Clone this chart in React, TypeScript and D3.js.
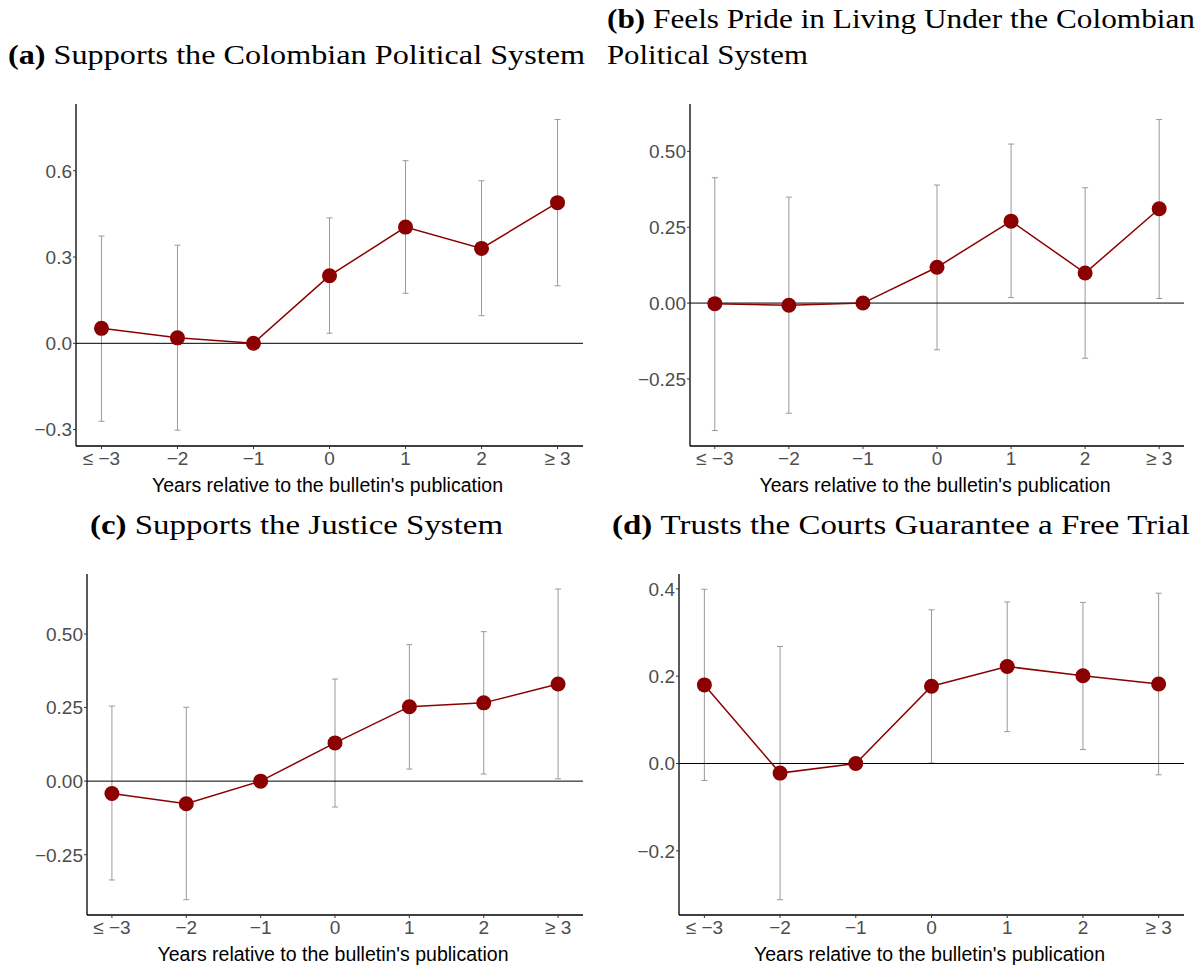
import React from "react";
import * as d3 from "d3";

const categories = ["≤ −3", "−2", "−1", "0", "1", "2", "≥ 3"];

const estA = [0.052, 0.019, 0, 0.235, 0.404, 0.33, 0.489];
const hiA = [0.373, 0.341, 0, 0.436, 0.635, 0.565, 0.778];
const loA = [-0.271, -0.302, 0, 0.035, 0.174, 0.096, 0.2];

const estB = [-0.002, -0.007, 0, 0.118, 0.27, 0.099, 0.311];
const hiB = [0.413, 0.349, 0, 0.389, 0.524, 0.38, 0.605];
const loB = [-0.42, -0.363, 0, -0.154, 0.018, -0.182, 0.015];

const estC = [-0.042, -0.077, 0, 0.13, 0.253, 0.266, 0.33];
const hiC = [0.255, 0.251, 0, 0.347, 0.464, 0.508, 0.653];
const loC = [-0.336, -0.403, 0, -0.088, 0.041, 0.024, 0.008];

const estD = [0.18, -0.022, 0, 0.177, 0.222, 0.201, 0.182];
const hiD = [0.399, 0.268, 0, 0.352, 0.37, 0.369, 0.39];
const loD = [-0.039, -0.312, 0, 0.001, 0.073, 0.032, -0.026];

const ticksA = [-0.3, 0, 0.3, 0.6];
const ticksB = [-0.25, 0, 0.25, 0.5];
const ticksC = [-0.25, 0, 0.25, 0.5];
const ticksD = [-0.2, 0, 0.2, 0.4];

const xLabel = "Years relative to the bulletin's publication";

type PanelProps = {
  left: number; right: number; top: number; bottom: number;
  domain: [number, number]; ticks: number[]; fmt: string;
  est: number[]; hi: number[]; lo: number[];
};

function Panel(p: PanelProps) {
  const x = d3.scalePoint<string>().domain(categories).range([p.left, p.right]).padding(0.335);
  const y = d3.scaleLinear().domain(p.domain).range([p.bottom, p.top]);
  const f = d3.format(p.fmt);
  const line = d3.line<number>().x((_, i) => x(categories[i])!).y((d) => y(d));
  const sans = "Liberation Sans, Arial, sans-serif";
  return (
    <g>
      {categories.map((c, i) =>
        p.hi[i] !== p.lo[i] ? (
          <g key={"eb" + i} stroke="#9a9a9a" strokeWidth={1}>
            <line x1={x(c)} x2={x(c)} y1={y(p.hi[i])} y2={y(p.lo[i])} />
            <line x1={x(c)! - 3} x2={x(c)! + 3} y1={y(p.hi[i])} y2={y(p.hi[i])} />
            <line x1={x(c)! - 3} x2={x(c)! + 3} y1={y(p.lo[i])} y2={y(p.lo[i])} />
          </g>
        ) : null
      )}
      <line x1={p.left} x2={p.right} y1={y(0)} y2={y(0)} stroke="#000" strokeWidth={1} />
      <path d={line(p.est)!} fill="none" stroke="#8B0000" strokeWidth={1.5} />
      {p.est.map((v, i) => (
        <circle key={"pt" + i} cx={x(categories[i])} cy={y(v)} r={7.5} fill="#8B0000" />
      ))}
      <line x1={p.left} x2={p.left} y1={p.top} y2={p.bottom} stroke="#000" strokeWidth={1.3} />
      <line x1={p.left} x2={p.right} y1={p.bottom} y2={p.bottom} stroke="#000" strokeWidth={1.3} />
      {p.ticks.map((t) => (
        <g key={"yt" + t}>
          <line x1={p.left - 3} x2={p.left} y1={y(t)} y2={y(t)} stroke="#333" strokeWidth={1} />
          <text x={p.left - 4} y={y(t)} dy="0.36em" textAnchor="end" fontSize={19} fontFamily={sans} fill="#4d4d4d">
            {f(t)}
          </text>
        </g>
      ))}
      {categories.map((c) => (
        <g key={"xt" + c}>
          <line x1={x(c)} x2={x(c)} y1={p.bottom} y2={p.bottom + 3} stroke="#333" strokeWidth={1} />
          <text x={x(c)} y={p.bottom + 19} textAnchor="middle" fontSize={19} fontFamily={sans} fill="#4d4d4d">
            {c}
          </text>
        </g>
      ))}
      <text x={(p.left + p.right) / 2 - 2} y={p.bottom + 46} textAnchor="middle" fontSize={19.5} fontFamily={sans} fill="#000">
        {xLabel}
      </text>
    </g>
  );
}

function Title({ x, y, label, text, width }: { x: number; y: number; label: string; text: string; width: number }) {
  return (
    <text x={x} y={y} fontSize={27} fontFamily="Liberation Serif, Times New Roman, serif" fill="#000" textLength={width} lengthAdjust="spacingAndGlyphs">
      {label ? <tspan fontWeight="bold">{label} </tspan> : null}
      <tspan>{text}</tspan>
    </text>
  );
}

export default function App() {
  return (
    <svg width={1203} height={969} style={{ position: "absolute", left: 0, top: 0, background: "#fff" }}>
      <rect width={1203} height={969} fill="#fff" />
      <Title x={8} y={64} label="(a)" text="Supports the Colombian Political System" width={577} />
      <Title x={607} y={28} label="(b)" text="Feels Pride in Living Under the Colombian" width={588} />
      <Title x={607} y={64} label="" text="Political System" width={201} />
      <Title x={90} y={534} label="(c)" text="Supports the Justice System" width={413} />
      <Title x={612} y={534} label="(d)" text="Trusts the Courts Guarantee a Free Trial" width={578} />
      <Panel left={76} right={583} top={104} bottom={446} domain={[-0.357, 0.832]} ticks={ticksA} fmt=".1f" est={estA} hi={hiA} lo={loA} />
      <Panel left={690} right={1184} top={104} bottom={446} domain={[-0.471, 0.656]} ticks={ticksB} fmt=".2f" est={estB} hi={hiB} lo={loB} />
      <Panel left={87} right={583} top={574} bottom={915} domain={[-0.455, 0.704]} ticks={ticksC} fmt=".2f" est={estC} hi={hiC} lo={loC} />
      <Panel left={679} right={1184} top={574} bottom={915} domain={[-0.347, 0.434]} ticks={ticksD} fmt=".1f" est={estD} hi={hiD} lo={loD} />
    </svg>
  );
}
